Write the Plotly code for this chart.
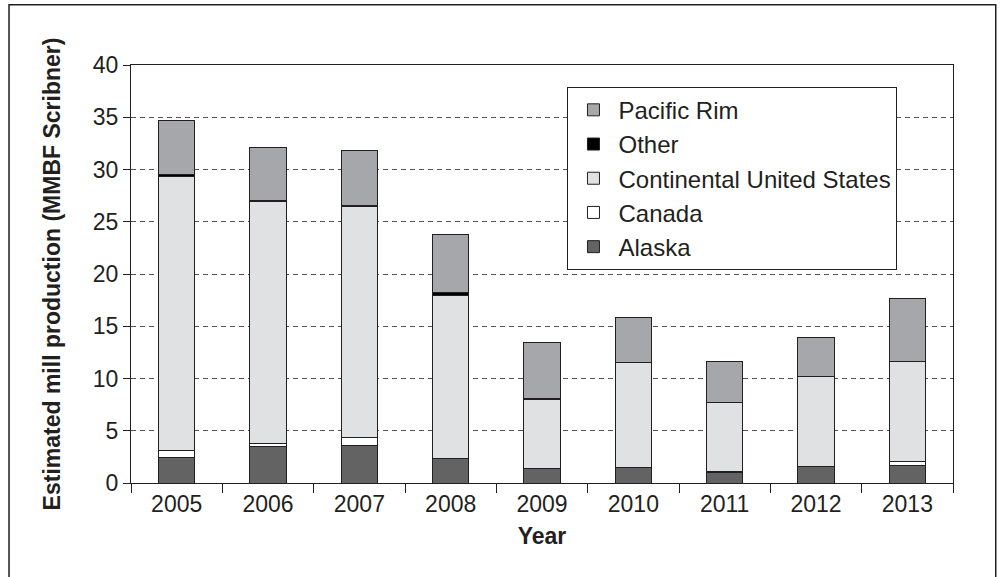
import plotly.graph_objects as go

years = ["2005", "2006", "2007", "2008", "2009", "2010", "2011", "2012", "2013"]

alaska = [2.4, 3.45, 3.6, 2.3, 1.4, 1.5, 1.05, 1.55, 1.7]
canada = [0.7, 0.3, 0.75, 0.05, 0.02, 0.02, 0.02, 0.02, 0.35]
continental_us = [26.2, 23.2, 22.15, 15.6, 6.6, 10.0, 6.65, 8.6, 9.55]
other = [0.25, 0.05, 0.05, 0.3, 0.02, 0.02, 0.02, 0.02, 0.02]
pacific_rim = [5.15, 5.15, 5.25, 5.5, 5.45, 4.3, 3.85, 3.7, 6.0]

series = [
    ("Alaska", alaska, "#636363"),
    ("Canada", canada, "#ffffff"),
    ("Continental United States", continental_us, "#e0e1e3"),
    ("Other", other, "#000000"),
    ("Pacific Rim", pacific_rim, "#a6a7aa"),
]

fig = go.Figure()
for i, (name, vals, color) in enumerate(series):
    fig.add_trace(go.Bar(
        x=years,
        y=vals,
        name=name,
        legendrank=100 - i,
        marker=dict(color=color, line=dict(color="#231f20", width=1)),
        width=0.4,
    ))

font = "Liberation Sans, Arial, sans-serif"

fig.update_layout(
    barmode="stack",
    width=1002,
    height=577,
    margin=dict(l=131, r=49, t=65, b=94),
    plot_bgcolor="white",
    paper_bgcolor="white",
    font=dict(family=font, size=23, color="#231f20"),
    legend=dict(
        x=0.531, y=0.948, xanchor="left", yanchor="top",
        bordercolor="#231f20", borderwidth=1,
        bgcolor="white",
        traceorder="normal",
        itemwidth=40,
        font=dict(size=24),
    ),
    showlegend=True,
)

fig.update_xaxes(
    showline=True, linecolor="#231f20", linewidth=1, mirror=True,
    ticks="outside", ticklen=9, tickcolor="#231f20", tickson="boundaries",
    showgrid=False,
    title=dict(text="<b>Year</b>", font=dict(size=23), standoff=12),
)

fig.update_yaxes(
    range=[0, 40], dtick=5,
    showline=True, linecolor="#231f20", linewidth=1, mirror=True,
    ticks="outside", ticklen=7, tickcolor="#231f20",
    showgrid=True, gridcolor="#555555", gridwidth=1, griddash="5px,4px",
    zeroline=False,
    title=dict(text="<b>Estimated mill production (MMBF Scribner)</b>", font=dict(size=23), standoff=25),
)

# outer frame around the whole figure
fig.add_shape(
    type="rect", xref="paper", yref="paper",
    x0=-0.1484, x1=1.052, y0=-0.25, y1=1.144,
    line=dict(color="#231f20", width=1.5), fillcolor="rgba(0,0,0,0)",
    layer="below",
)

fig.write_html(
    "out.html",
    config={"displayModeBar": False},
    post_script="document.body.style.margin='0';",
)
